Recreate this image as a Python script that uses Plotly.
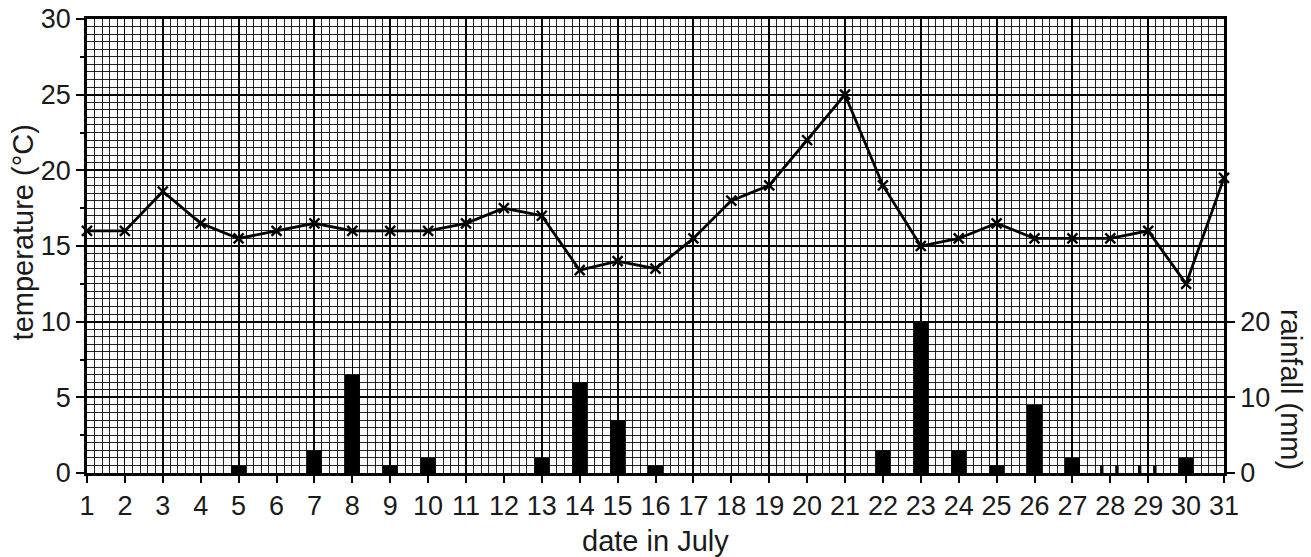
import plotly.graph_objects as go

# ---- data ----
dates = list(range(1, 32))
temperature = [16, 16, 18.6, 16.5, 15.5, 16, 16.5, 16, 16, 16, 16.5, 17.5, 17, 13.4, 14, 13.5,
               15.5, 18, 19, 22, 25, 19, 15, 15.5, 16.5, 15.5, 15.5, 15.5, 16, 12.5, 19.5]
rain_dates = [5, 7, 8, 9, 10, 13, 14, 15, 16, 22, 23, 24, 25, 26, 27, 30]
rainfall = [1, 3, 13, 1, 2, 2, 12, 7, 1, 3, 20, 3, 1, 9, 2, 2]
trace_dates = [28, 29]
trace_rain = [1, 1]
temp_ticks = [0, 5, 10, 15, 20, 25, 30]
rain_ticks = [0, 10, 20]

FONT = "Liberation Sans, Arial, sans-serif"
INK = "#1a1a1a"
FS = 27
TS = 29

fig = go.Figure()

fig.add_trace(go.Bar(x=rain_dates, y=rainfall, yaxis="y2", width=0.4,
                     marker=dict(color="black", line=dict(width=0)), showlegend=False))
for off in (-0.27, 0.13):
    fig.add_trace(go.Bar(x=trace_dates, y=trace_rain, yaxis="y2", width=0.09, offset=off,
                         marker=dict(color="black", line=dict(width=0)), showlegend=False))

fig.add_trace(go.Scatter(x=dates, y=temperature, mode="lines+markers",
                         line=dict(color="black", width=2.8),
                         marker=dict(symbol="x-thin-open", size=10, color="black",
                                     line=dict(color="black", width=2.4)),
                         showlegend=False, cliponaxis=False))

fig.update_layout(
    width=1311, height=557,
    margin=dict(l=87, r=87, t=19, b=84, autoexpand=False),
    paper_bgcolor="white", plot_bgcolor="white",
    font=dict(family=FONT, size=FS, color=INK),
    barmode="overlay",
    xaxis=dict(range=[1, 31], tickvals=dates, ticks="outside", ticklen=7, tickwidth=2,
               tickcolor="black", showline=True, linewidth=2.5, linecolor="black", mirror=True,
               showgrid=True, gridcolor="black", gridwidth=1.2,
               minor=dict(dtick=0.2, tick0=1, showgrid=True, gridcolor="rgba(0,0,0,0.85)",
                          gridwidth=1, ticks=""),
               zeroline=False, tickfont=dict(size=FS), automargin=False),
    xaxis2=dict(range=[1, 31], overlaying="x", dtick=2, tick0=1, showgrid=True,
                gridcolor="black", gridwidth=2.2, showticklabels=False, ticks="",
                showline=False, zeroline=False, automargin=False),
    yaxis=dict(range=[0, 30], tickvals=temp_ticks, ticks="outside", ticklen=8, tickwidth=2,
               tickcolor="black", showline=True, linewidth=2.5, linecolor="black", mirror=True,
               showgrid=True, gridcolor="black", gridwidth=2.2,
               minor=dict(dtick=0.5, tick0=0, showgrid=True, gridcolor="rgba(0,0,0,0.85)",
                          gridwidth=1, ticks=""),
               zeroline=False, tickfont=dict(size=FS), automargin=False),
    yaxis2=dict(range=[0, 60], overlaying="y", side="right", tickvals=rain_ticks,
                ticks="outside", ticklen=8, tickwidth=2, tickcolor="black",
                showline=True, linewidth=2.5, linecolor="black", showgrid=False,
                zeroline=False, tickfont=dict(size=FS), automargin=False),
    yaxis3=dict(range=[0, 30], overlaying="y", dtick=2.5, ticks="outside", ticklen=6,
                tickwidth=2, tickcolor="black", showticklabels=False, showgrid=False,
                showline=False, zeroline=False, automargin=False),
    annotations=[
        dict(text="date in July", xref="paper", yref="paper", x=0.5, y=0, yshift=-68,
             showarrow=False, font=dict(size=TS, color=INK), xanchor="center",
             yanchor="middle"),
        dict(text="temperature (°C)", xref="paper", yref="paper", x=0, xshift=-64,
             y=0.53, textangle=-90, showarrow=False, font=dict(size=TS, color=INK),
             xanchor="center", yanchor="middle"),
        dict(text="rainfall (mm)", xref="paper", y=0.185, yref="paper", x=1, xshift=67,
             textangle=90, showarrow=False, font=dict(size=TS, color=INK),
             xanchor="center", yanchor="middle"),
    ],
)

# dummy anchors for overlay axes so they are drawn
fig.add_trace(go.Scatter(x=[None], y=[None], xaxis="x2", yaxis="y3", showlegend=False,
                         hoverinfo="skip"))

fig.write_html("out.html", config={"displayModeBar": False},
               post_script="document.body.style.margin='0';document.body.style.overflow='hidden';")
